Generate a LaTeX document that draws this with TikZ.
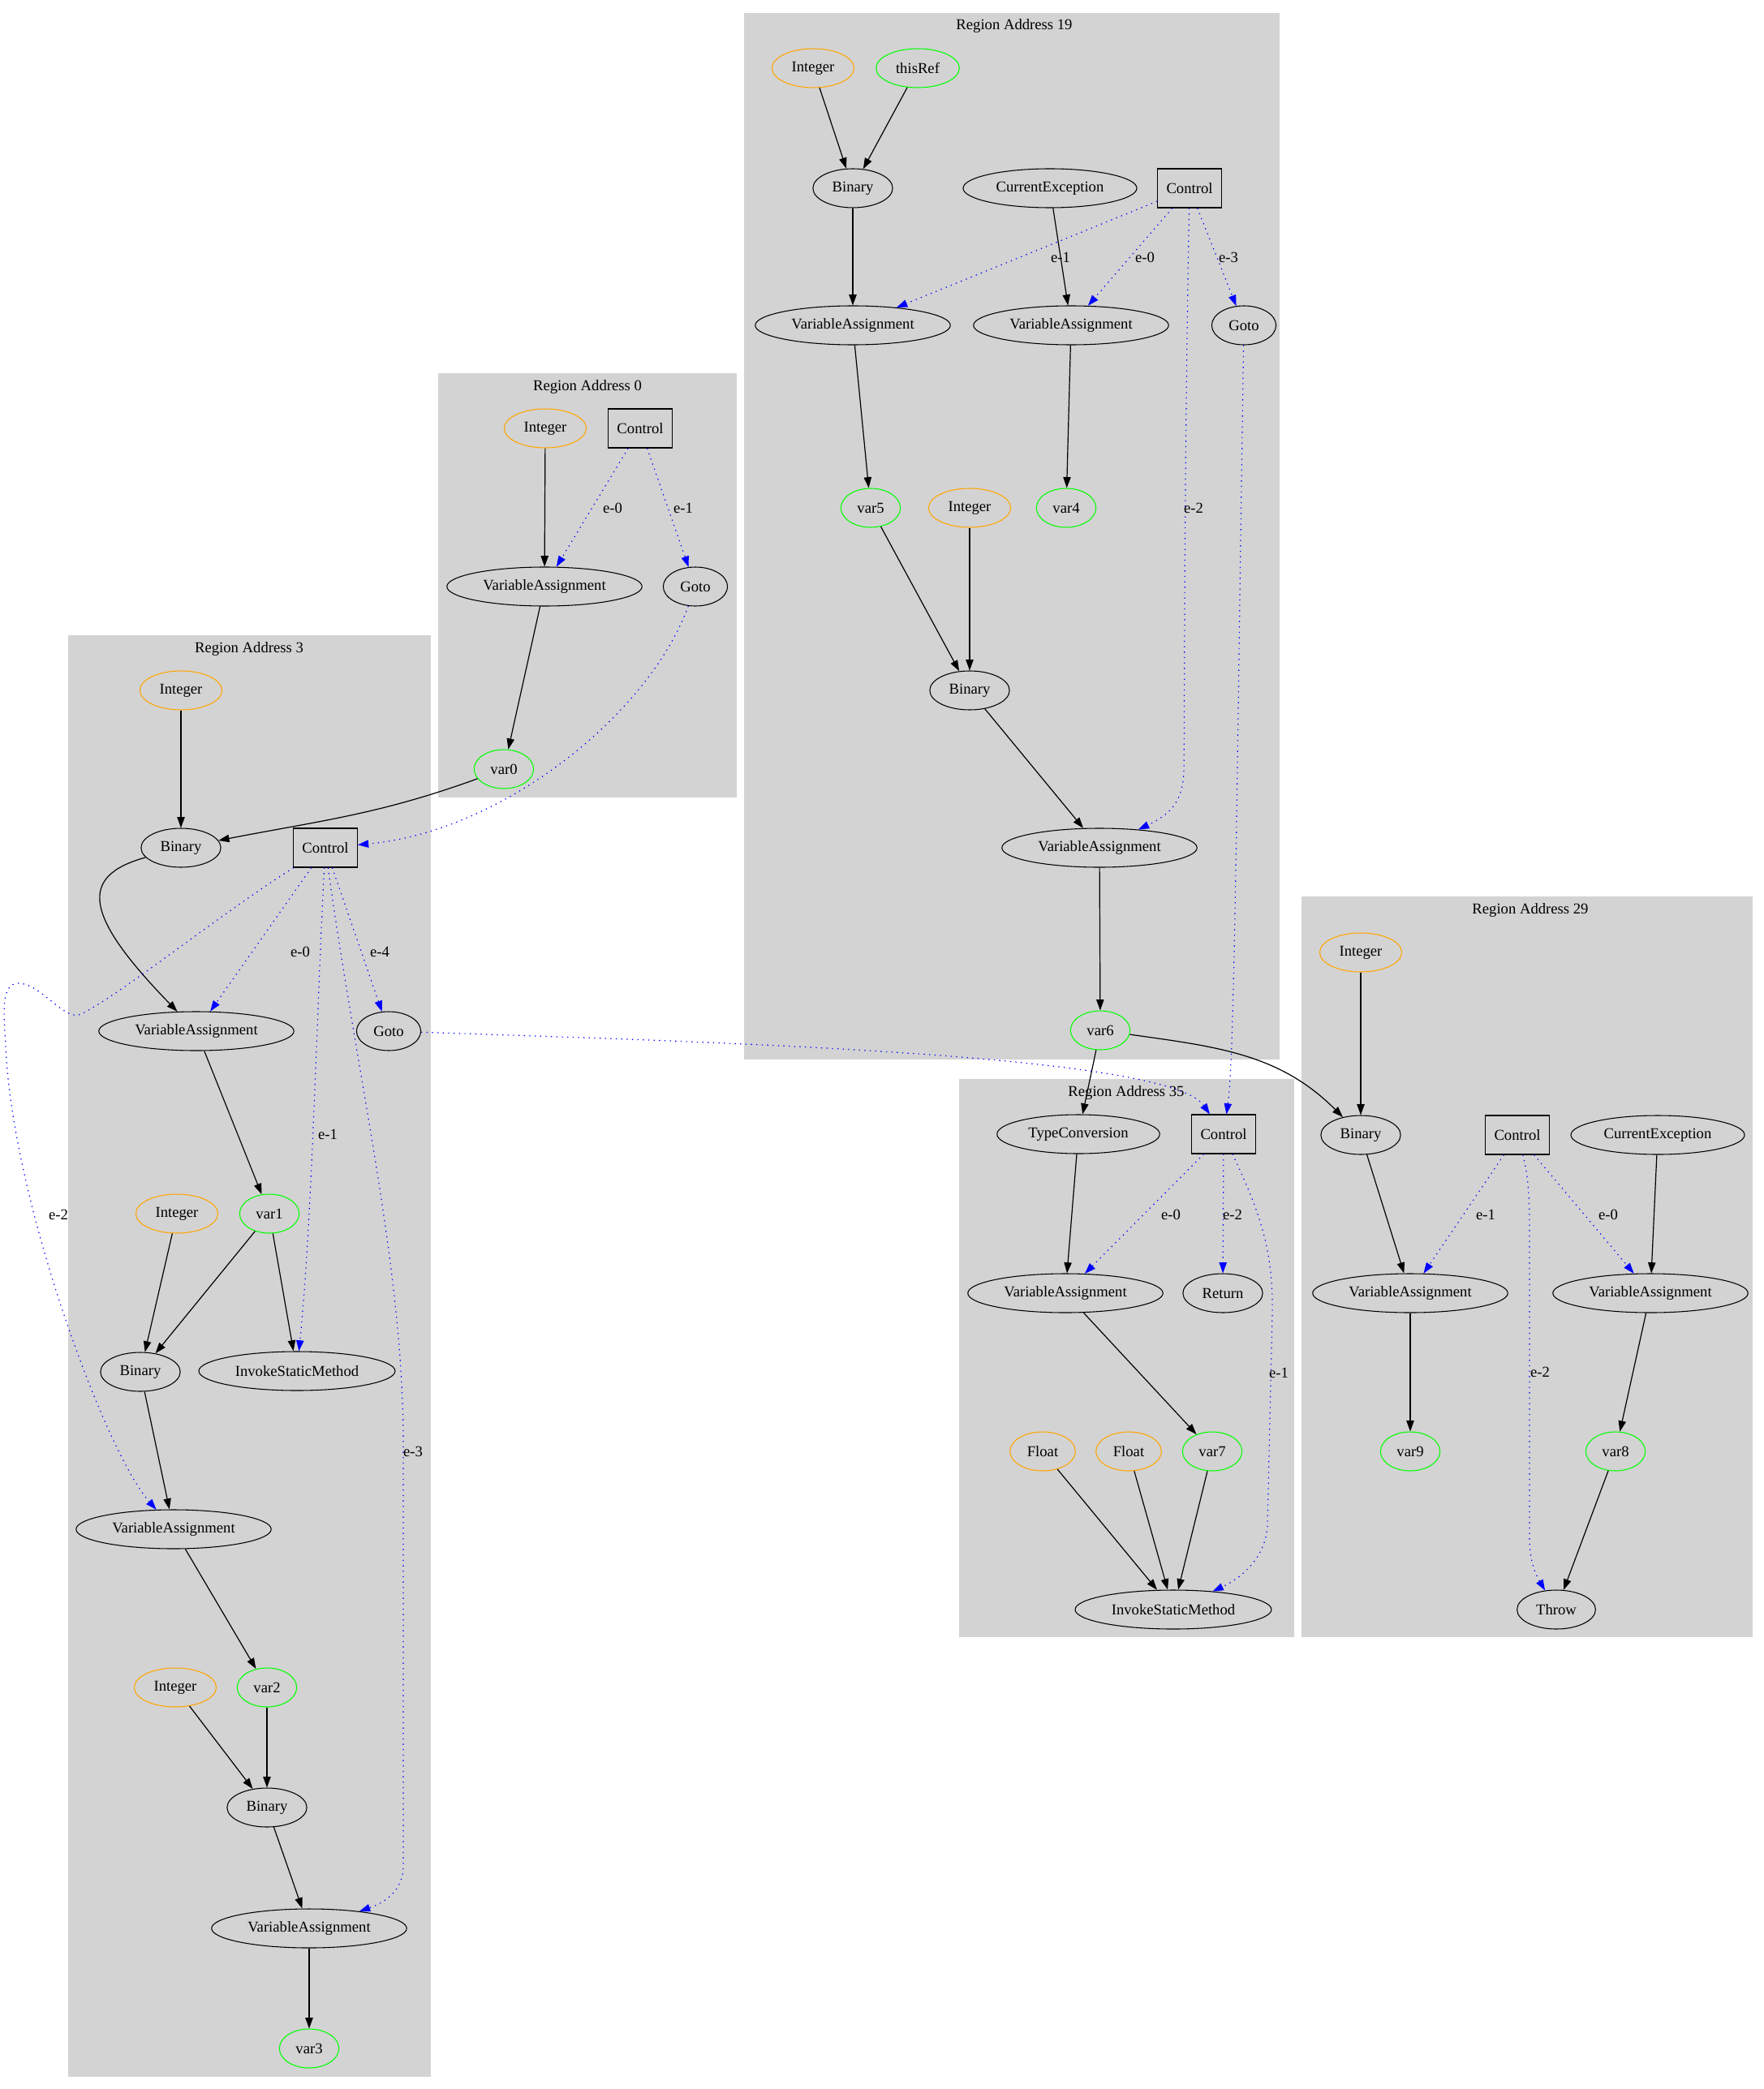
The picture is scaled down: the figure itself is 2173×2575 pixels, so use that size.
\documentclass[tikz,border=0pt]{standalone}
\usepackage{fontspec}
\setmainfont{Liberation Serif}
\usetikzlibrary{shapes.geometric,arrows.meta}
\definecolor{GVGray}{HTML}{D3D3D3}
\definecolor{GVOrange}{HTML}{FFA500}
\definecolor{GVGreen}{HTML}{00FF00}
\definecolor{GVBlue}{HTML}{0000FF}

\begin{document}
\begin{tikzpicture}[x=0.75pt,y=-0.75pt,>={Triangle[length=10pt,width=7pt]},
  font=\fontsize{14}{16}\selectfont]
  \tikzstyle{opnode}=[draw,ellipse,line width=0.8pt,inner xsep=7pt,inner ysep=2pt,
    minimum width=54pt,minimum height=36pt]
  \tikzstyle{litnode}=[opnode,draw=GVOrange]
  \tikzstyle{varnode}=[opnode,draw=GVGreen]
  \tikzstyle{ctrlnode}=[draw,rectangle,line width=0.8pt,minimum width=59pt,
    minimum height=36pt,inner sep=0pt]
  \tikzstyle{dataflow}=[->,line width=0.9pt]
  \tikzstyle{ctrlflow}=[->,GVBlue,line width=0.9pt,dash pattern=on 1pt off 4pt]
  \tikzstyle{elabel}=[inner sep=0pt]
  \tikzstyle{rtitle}=[inner sep=0pt]
  \tikzstyle{region}=[fill=GVGray]
  \useasboundingbox (0,0) rectangle (2173,2575);

  % clusters
  \fill[region] (917,16) rectangle (1577,1306);
  \fill[region] (540,460) rectangle (908,983);
  \fill[region] (84,783) rectangle (531,2560);
  \fill[region] (1182,1330) rectangle (1595,2018);
  \fill[region] (1604,1105) rectangle (2160,2018);
  \node[rtitle] (t19) at (1250,32) {Region Address 19};
  \node[rtitle] (t0) at (724,477) {Region Address 0};
  \node[rtitle] (t3) at (307,800) {Region Address 3};
  \node[rtitle] (t35) at (1388,1347) {Region Address 35};
  \node[rtitle] (t29) at (1886,1122) {Region Address 29};

  % Region Address 19
  \node[litnode] (i19a) at (1002,84) {Integer};
  \node[varnode] (tr19) at (1131,84) {thisRef};
  \node[opnode] (b19a) at (1051,232) {Binary};
  \node[opnode] (ce19) at (1294,232) {CurrentException};
  \node[ctrlnode] (c19) at (1466,232) {Control};
  \node[opnode] (va19a) at (1051,401) {VariableAssignment};
  \node[opnode] (va19b) at (1320,401) {VariableAssignment};
  \node[opnode] (g19) at (1533,401) {Goto};
  \node[varnode] (v5) at (1073,626) {var5};
  \node[litnode] (i19b) at (1195,626) {Integer};
  \node[varnode] (v4) at (1314,626) {var4};
  \node[opnode] (b19b) at (1195,851) {Binary};
  \node[opnode] (va19c) at (1355,1045) {VariableAssignment};
  \node[varnode] (v6) at (1356,1270) {var6};

  % Region Address 0
  \node[litnode] (i0) at (672,528) {Integer};
  \node[ctrlnode] (c0) at (789,528) {Control};
  \node[opnode] (va0) at (671,723) {VariableAssignment};
  \node[opnode] (g0) at (857,723) {Goto};
  \node[varnode] (v0) at (621,948) {var0};

  % Region Address 3
  \node[litnode] (i3a) at (223,851) {Integer};
  \node[opnode] (b3a) at (223,1045) {Binary};
  \node[ctrlnode] (c3) at (401,1045) {Control};
  \node[opnode] (va3a) at (242,1271) {VariableAssignment};
  \node[opnode] (g3) at (479,1271) {Goto};
  \node[litnode] (i3b) at (218,1496) {Integer};
  \node[varnode] (v1) at (332,1496) {var1};
  \node[opnode] (b3b) at (173,1691) {Binary};
  \node[opnode] (ism3) at (366,1690) {InvokeStaticMethod};
  \node[opnode] (va3b) at (214,1885) {VariableAssignment};
  \node[litnode] (i3c) at (216,2080) {Integer};
  \node[varnode] (v2) at (329,2080) {var2};
  \node[opnode] (b3c) at (329,2228) {Binary};
  \node[opnode] (va3c) at (381,2377) {VariableAssignment};
  \node[varnode] (v3) at (381,2525) {var3};

  % Region Address 35
  \node[opnode] (tc35) at (1329,1398) {TypeConversion};
  \node[ctrlnode] (c35) at (1508,1398) {Control};
  \node[opnode] (va35) at (1313,1594) {VariableAssignment};
  \node[opnode] (r35) at (1507,1594) {Return};
  \node[litnode] (f35a) at (1285,1789) {Float};
  \node[litnode] (f35b) at (1391,1789) {Float};
  \node[varnode] (v7) at (1494,1789) {var7};
  \node[opnode] (ism35) at (1446,1984) {InvokeStaticMethod};

  % Region Address 29
  \node[litnode] (i29) at (1677,1174) {Integer};
  \node[opnode] (b29) at (1677,1399) {Binary};
  \node[ctrlnode] (c29) at (1870,1399) {Control};
  \node[opnode] (ce29) at (2043,1399) {CurrentException};
  \node[opnode] (va29a) at (1738,1594) {VariableAssignment};
  \node[opnode] (va29b) at (2034,1594) {VariableAssignment};
  \node[varnode] (v9) at (1738,1789) {var9};
  \node[varnode] (v8) at (1991,1789) {var8};
  \node[opnode] (th29) at (1918,1984) {Throw};

  % data edges
  \draw[dataflow] (i19a) -- (b19a);
  \draw[dataflow] (tr19) -- (b19a);
  \draw[dataflow] (b19a) -- (va19a);
  \draw[dataflow] (ce19) -- (va19b);
  \draw[dataflow] (va19a) -- (v5);
  \draw[dataflow] (va19b) -- (v4);
  \draw[dataflow] (v5) -- (b19b);
  \draw[dataflow] (i19b) -- (b19b);
  \draw[dataflow] (b19b) -- (va19c);
  \draw[dataflow] (va19c) -- (v6);
  \draw[dataflow] (v6) -- (tc35);
  \draw[dataflow] (v6) to[out=-8,in=135] (b29);

  \draw[dataflow] (i0) -- (va0);
  \draw[dataflow] (va0) -- (v0);
  \draw[dataflow] (v0) to[out=200,in=11] (b3a);

  \draw[dataflow] (i3a) -- (b3a);
  \draw[dataflow] (b3a) .. controls (95,1080) and (105,1130) .. (va3a);
  \draw[dataflow] (va3a) -- (v1);
  \draw[dataflow] (i3b) -- (b3b);
  \draw[dataflow] (v1) -- (b3b);
  \draw[dataflow] (v1) -- (ism3);
  \draw[dataflow] (b3b) -- (va3b);
  \draw[dataflow] (va3b) -- (v2);
  \draw[dataflow] (i3c) -- (b3c);
  \draw[dataflow] (v2) -- (b3c);
  \draw[dataflow] (b3c) -- (va3c);
  \draw[dataflow] (va3c) -- (v3);

  \draw[dataflow] (tc35) -- (va35);
  \draw[dataflow] (va35) -- (v7);
  \draw[dataflow] (f35a) -- (ism35);
  \draw[dataflow] (f35b) -- (ism35);
  \draw[dataflow] (v7) -- (ism35);

  \draw[dataflow] (i29) -- (b29);
  \draw[dataflow] (b29) -- (va29a);
  \draw[dataflow] (ce29) -- (va29b);
  \draw[dataflow] (va29a) -- (v9);
  \draw[dataflow] (va29b) -- (v8);
  \draw[dataflow] (v8) -- (th29);

  % control edges
  \draw[ctrlflow] (c19) -- (va19a);
  \draw[ctrlflow] (c19) -- (va19b);
  \draw[ctrlflow] (c19) -- (g19);
  \draw[ctrlflow] (c19) .. controls (1459,600) and (1460,900) .. (1459,950)
    .. controls (1458,990) and (1440,1005) .. (va19c);
  \draw[ctrlflow] (g19) .. controls (1525,900) and (1522,1300) .. (c35);
  \node[elabel] (l19a) at (1307,317) {e-1};
  \node[elabel] (l19b) at (1411,317) {e-0};
  \node[elabel] (l19c) at (1514,317) {e-3};
  \node[elabel] (l19d) at (1471,626) {e-2};

  \draw[ctrlflow] (c0) -- (va0);
  \draw[ctrlflow] (c0) -- (g0);
  \draw[ctrlflow] (g0) .. controls (800,880) and (620,1025) .. (c3);
  \node[elabel] (l0a) at (755,626) {e-0};
  \node[elabel] (l0b) at (842,626) {e-1};

  \draw[ctrlflow] (c3) -- (va3a);
  \draw[ctrlflow] (c3) -- (g3);
  \draw[ctrlflow] (c3) .. controls (390,1250) and (385,1500) .. (ism3);
  \draw[ctrlflow] (c3) .. controls (275,1124) and (150,1225) .. (100,1250)
    .. controls (80,1260) and (50,1212) .. (23,1212)
    .. controls (0,1212) and (5,1250) .. (7,1290)
    .. controls (15,1480) and (130,1790) .. (va3b);
  \draw[ctrlflow] (c3) .. controls (440,1330) and (497,1560) .. (497,1780)
    -- (497,2300) .. controls (497,2330) and (475,2345) .. (va3c);
  \draw[ctrlflow] (g3) .. controls (900,1285) and (1440,1300) .. (c35);
  \node[elabel] (l3a) at (370,1173) {e-0};
  \node[elabel] (l3b) at (468,1173) {e-4};
  \node[elabel] (l3c) at (404,1398) {e-1};
  \node[elabel] (l3d) at (72,1497) {e-2};
  \node[elabel] (l3e) at (509,1789) {e-3};

  \draw[ctrlflow] (c35) -- (va35);
  \draw[ctrlflow] (c35) -- (r35);
  \draw[ctrlflow] (c35) .. controls (1545,1480) and (1570,1530) .. (1568,1620)
    -- (1562,1880) .. controls (1560,1920) and (1530,1945) .. (ism35);
  \node[elabel] (l35a) at (1443,1497) {e-0};
  \node[elabel] (l35b) at (1519,1497) {e-2};
  \node[elabel] (l35c) at (1576,1692) {e-1};

  \draw[ctrlflow] (c29) -- (va29a);
  \draw[ctrlflow] (c29) -- (va29b);
  \draw[ctrlflow] (c29) .. controls (1884,1450) and (1885,1480) .. (1885,1520)
    -- (1885,1900) .. controls (1886,1930) and (1895,1945) .. (th29);
  \node[elabel] (l29a) at (1831,1497) {e-1};
  \node[elabel] (l29b) at (1982,1497) {e-0};
  \node[elabel] (l29c) at (1898,1691) {e-2};
\end{tikzpicture}
\end{document}
